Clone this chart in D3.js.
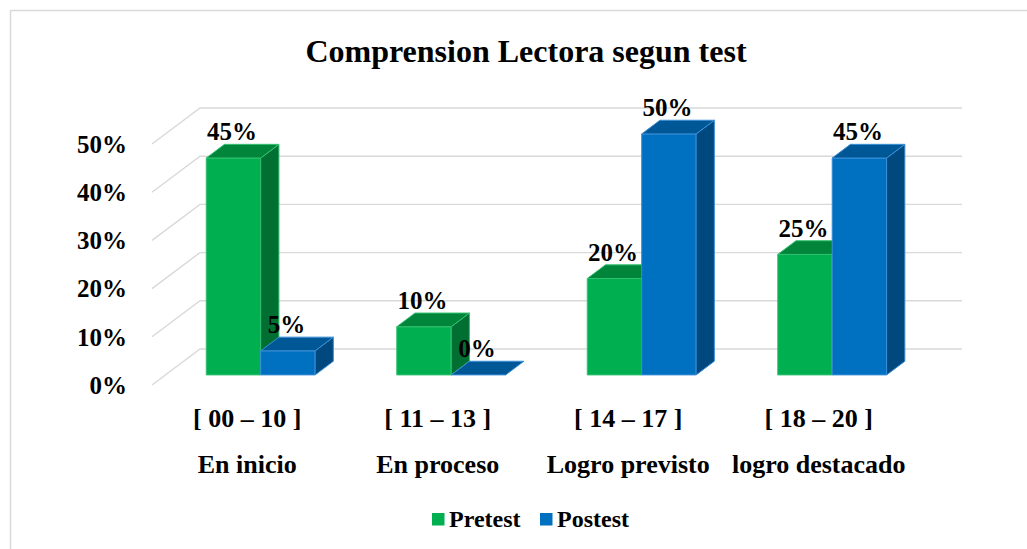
<!DOCTYPE html>
<html>
<head>
<meta charset="utf-8">
<script src="https://cdn.jsdelivr.net/npm/d3@7"></script>
<style>
  html, body { margin: 0; padding: 0; background: #fff; }
  svg { display: block; }
</style>
</head>
<body>
<svg id="chart" width="1027" height="549"></svg>
<script>
const title = "Comprension Lectora segun test";
const categories = ["[ 00 – 10 ]", "[ 11 – 13 ]", "[ 14 – 17 ]", "[ 18 – 20 ]"];
const levels = ["En inicio", "En proceso", "Logro previsto", "logro destacado"];
const series = ["Pretest", "Postest"];
const pretest = [0.45, 0.10, 0.20, 0.25];
const postest = [0.05, 0.00, 0.50, 0.45];
const yTicks = [0, 0.1, 0.2, 0.3, 0.4, 0.5];

const values = { Pretest: pretest, Postest: postest };
const colors = {
  Pretest: { front: "#00B050", top: "#00853B", side: "#006F31", stroke: "#33C070" },
  Postest: { front: "#0070C0", top: "#005795", side: "#00487D", stroke: "#3A8FD8" }
};
const FONT = "'Liberation Serif', 'Times New Roman', Times, 'DejaVu Serif', serif";

const svg = d3.select("#chart")
  .attr("font-family", FONT)
  .attr("font-weight", "bold");

// border
svg.append("path")
  .attr("d", "M10.5,549 L10.5,10.5 L1027,10.5")
  .attr("fill", "none").attr("stroke", "#D9D9D9").attr("stroke-width", 1.5);

// 3D geometry
const DX = 48, DY = 36;
const t1 = 0.28, t2 = 0.66;
const x0 = d3.scaleBand().domain(categories).range([152, 914]).padding(0);
const x1 = d3.scaleBand().domain(series).range([0, x0.bandwidth()]).paddingInner(0).paddingOuter(0.75);
const y = d3.scaleLinear().domain([0, 0.5]).range([385, 144]);
const P = (xf, v, t) => [xf + t * DX, y(v) - t * DY];
const fmt = d3.format(".0%");

// gridlines
const grid = svg.append("g").attr("stroke", "#D9D9D9").attr("stroke-width", 1.4).attr("fill", "none");
const xLeft = x0.range()[0], xRight = x0.range()[1];
yTicks.forEach(v => {
  const a = P(xLeft, v, 0), b = P(xLeft, v, 1), c = P(xRight, v, 1);
  grid.append("path").attr("d", `M${a[0]},${a[1]} L${b[0]},${b[1]} L${c[0]},${c[1]}`);
});

// y axis labels
svg.append("g").selectAll("text").data(yTicks).join("text")
  .attr("x", 127).attr("y", d => y(d))
  .attr("dy", "0.35em")
  .attr("text-anchor", "end")
  .attr("font-size", 25)
  .attr("font-family", FONT).attr("font-weight", "bold")
  .text(d => fmt(d));

// bars
const barsG = svg.append("g");
const poly = pts => "M" + pts.map(p => p.join(",")).join(" L") + " Z";
categories.forEach((cat, i) => {
  series.forEach(s => {
    const v = values[s][i];
    const xl = x0(cat) + x1(s), xr = xl + x1.bandwidth();
    const col = colors[s];
    const g = barsG.append("g").attr("stroke", col.stroke).attr("stroke-width", 1).attr("stroke-linejoin", "round");
    if (v > 0) {
      g.append("path").attr("fill", col.front)
        .attr("d", poly([P(xl, 0, t1), P(xr, 0, t1), P(xr, v, t1), P(xl, v, t1)]));
      g.append("path").attr("fill", col.side)
        .attr("d", poly([P(xr, 0, t1), P(xr, 0, t2), P(xr, v, t2), P(xr, v, t1)]));
    }
    g.append("path").attr("fill", col.top)
      .attr("d", poly([P(xl, v, t1), P(xr, v, t1), P(xr, v, t2), P(xl, v, t2)]));
  });
});

// data labels
const labelsG = svg.append("g");
categories.forEach((cat, i) => {
  series.forEach(s => {
    const v = values[s][i];
    const xl = x0(cat) + x1(s);
    const cx = xl + x1.bandwidth() / 2 + t1 * DX - 1.5;
    const ty = y(v) - t2 * DY - 4;
    labelsG.append("text")
      .attr("x", cx).attr("y", ty)
      .attr("text-anchor", "middle")
      .attr("font-size", 25)
      .attr("font-family", FONT).attr("font-weight", "bold")
      .text(fmt(v));
  });
});

// category labels
const catG = svg.append("g");
categories.forEach((cat, i) => {
  const cx = x0(cat) + x0.bandwidth() / 2;
  catG.append("text").attr("x", cx).attr("y", 427).attr("text-anchor", "middle")
    .attr("font-size", 26).attr("font-family", FONT).attr("font-weight", "bold").text(cat);
  catG.append("text").attr("x", cx).attr("y", 473).attr("text-anchor", "middle")
    .attr("font-size", 26).attr("font-family", FONT).attr("font-weight", "bold").text(levels[i]);
});

// title
svg.append("text").attr("x", 526).attr("y", 62).attr("text-anchor", "middle")
  .attr("font-size", 32).attr("font-family", FONT).attr("font-weight", "bold").text(title);

// legend
const legendPos = [{ sq: 432, tx: 449 }, { sq: 540, tx: 557 }];
series.forEach((s, j) => {
  svg.append("rect").attr("x", legendPos[j].sq).attr("y", 513).attr("width", 12.5).attr("height", 12.5)
    .attr("fill", colors[s].front);
  svg.append("text").attr("x", legendPos[j].tx).attr("y", 527)
    .attr("font-size", 24).attr("font-family", FONT).attr("font-weight", "bold").text(s);
});
</script>
</body>
</html>
